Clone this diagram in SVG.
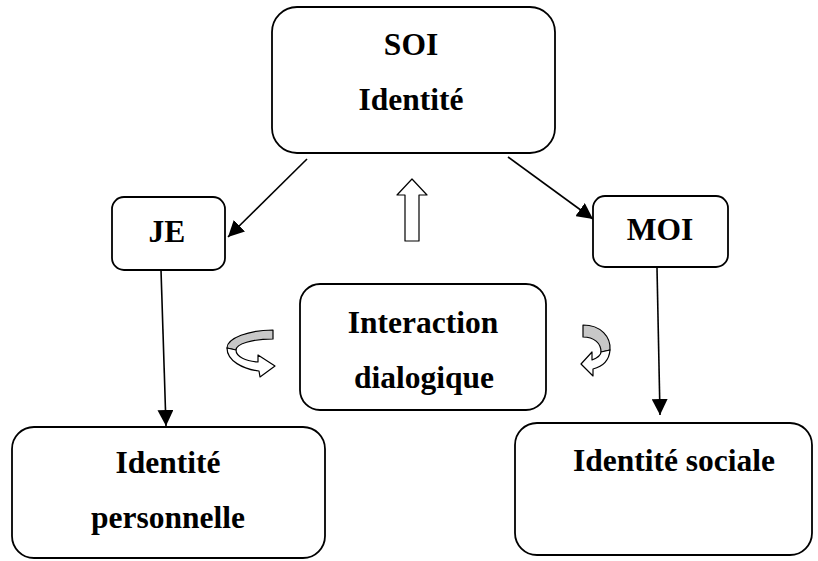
<svg xmlns="http://www.w3.org/2000/svg" width="818" height="561" viewBox="0 0 818 561">
<style>
.box{fill:#fff;stroke:#000;stroke-width:1.8}
.t{font-family:'Liberation Serif','DejaVu Serif',serif;font-weight:bold;font-size:31.5px;fill:#000;text-anchor:middle}
.ln{stroke:#000;stroke-width:1.6;fill:none;marker-end:url(#ah)}
.ga{fill:#c8c8c8;stroke:#000;stroke-width:1.2;stroke-linejoin:round}
.wa{fill:#fff;stroke:#000;stroke-width:1.2;stroke-linejoin:round}
</style>
<defs>
<marker id="ah" markerUnits="userSpaceOnUse" markerWidth="18" markerHeight="16" refX="16" refY="8" orient="auto">
<path d="M0,0 L16,8 L0,16 Z" fill="#000"/>
</marker>
</defs>
<rect width="818" height="561" fill="#fff"/>
<g id="connectors">
<line class="ln" x1="307" y1="159" x2="228" y2="237"/>
<line class="ln" x1="508" y1="157" x2="593" y2="219"/>
<line class="ln" x1="161" y1="270" x2="166" y2="426"/>
<line class="ln" x1="657" y1="268" x2="660" y2="415"/>
<path class="wa" d="M412,179 L427,195 L419,195 L419,241 L405,241 L405,195 L397,195 Z"/>
<path class="ga" d="M273,330 C249,330 227,338 227,348 L236,350 C236,344 252,339 273,339 Z"/>
<path class="wa" d="M227,348 C227,361 243,369 259,371 L260,377 L275,366 L258,355 L258,362 C246,361 236,357 236,350 Z"/>
<path class="ga" d="M583,325 C601,325 611,337 610,350 L601,352 C601,343 594,337 583,337 Z"/>
<path class="wa" d="M610,350 C609,362 601,367 593,369 L593,376 L581,364 L592,352 L592,360 C597,358 601,356 601,352 Z"/>
</g>
<g id="soi">
<rect class="box" x="272" y="7" width="283" height="146" rx="25"/>
<text class="t" x="411" y="55" font-family="Liberation Serif, serif">SOI</text>
<text class="t" x="411" y="110">Identité</text>
</g>
<g id="je">
<rect class="box" x="112" y="197" width="113" height="73" rx="12"/>
<text class="t" x="167" y="242">JE</text>
</g>
<g id="moi">
<rect class="box" x="593" y="196" width="135" height="71" rx="12"/>
<text class="t" x="660" y="240">MOI</text>
</g>
<g id="interaction">
<rect class="box" x="300" y="284" width="246" height="126" rx="20"/>
<text class="t" x="423" y="333">Interaction</text>
<text class="t" x="424" y="388">dialogique</text>
</g>
<g id="identite-personnelle">
<rect class="box" x="12" y="427" width="313" height="131" rx="22"/>
<text class="t" x="168" y="473">Identité</text>
<text class="t" x="168" y="528">personnelle</text>
</g>
<g id="identite-sociale">
<rect class="box" x="515" y="423" width="297" height="132" rx="22"/>
<text class="t" x="674" y="471">Identité sociale</text>
</g>
</svg>
